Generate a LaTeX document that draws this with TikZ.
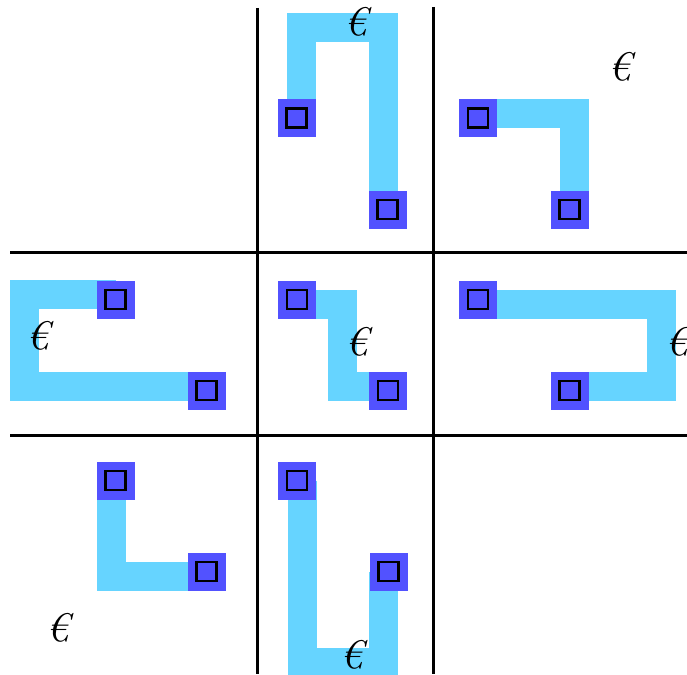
\documentclass[tikz,border=0pt]{standalone}
\usepackage{fontspec}
\definecolor{padblue}{RGB}{82,82,255}
\definecolor{stripblue}{RGB}{102,212,255}
\tikzset{
  grid line/.style={line width=3pt, black},
  strip/.style={line width=29pt, stripblue, line join=miter},
  pad/.style={fill=padblue, draw=none, minimum size=38pt, inner sep=0pt,
    path picture={\draw[line width=2.2pt, black]
      ([shift={(-10pt,-9.5pt)}]path picture bounding box.center) rectangle
      ([shift={(10pt,9.5pt)}]path picture bounding box.center);}},
  mark glyph/.style={inner sep=0pt, font=\fontsize{40}{40}\selectfont\itshape}
}
\begin{document}
\begin{tikzpicture}[x=1pt, y=-1pt]
\useasboundingbox (0,0) rectangle (687,674);
\fill[white] (0,0) rectangle (687,674);
% grid
\draw[grid line] (257,8) -- (257,674);
\draw[grid line] (433,7) -- (433,674);
\draw[grid line] (10,252) -- (687,252);
\draw[grid line] (10,435) -- (687,435);
% pads (positions)
\coordinate (tmA) at (296.5,118);   \coordinate (tmB) at (387.5,209.5);
\coordinate (trA) at (478,118);     \coordinate (trB) at (569.5,209.5);
\coordinate (mlA) at (115.5,299.5); \coordinate (mlB) at (206.5,390.5);
\coordinate (mmA) at (297,299.5);   \coordinate (mmB) at (388,390.5);
\coordinate (mrA) at (478,299.5);   \coordinate (mrB) at (569.5,390.5);
\coordinate (blA) at (115.5,480.5); \coordinate (blB) at (206.5,571.5);
\coordinate (bmA) at (297,480.5);   \coordinate (bmB) at (388.5,571.5);
% strip corners
\coordinate (tm1) at (301.5,27.5); \coordinate (tm2) at (383,27.5);
\coordinate (tr1) at (574,113.5);
\coordinate (ml1) at (24.5,294.5); \coordinate (ml2) at (24.5,386);
\coordinate (mm1) at (342.5,304);  \coordinate (mm2) at (342.5,386);
\coordinate (mr1) at (661,304);    \coordinate (mr2) at (661,386);
\coordinate (bl1) at (111,576.5);
\coordinate (bm1) at (302,662.5);  \coordinate (bm2) at (383.5,662.5);
% strips
\draw[strip] (tmA -| tm1) -- (tm1) -- (tm2) -- (tmB -| tm2);
\draw[strip] (trA |- tr1) -- (tr1) -- (trB -| tr1);
\draw[strip] (mlA |- ml1) -- (ml1) -- (ml2) -- (mlB |- ml2);
\draw[strip] (mmA |- mm1) -- (mm1) -- (mm2) -- (mmB |- mm2);
\draw[strip] (mrA |- mr1) -- (mr1) -- (mr2) -- (mrB |- mr2);
\draw[strip] (blA -| bl1) -- (bl1) -- (blB |- bl1);
\draw[strip] (bmA -| bm1) -- (bm1) -- (bm2) -- (bmB -| bm2);
% pads
\foreach \p in {tmA,tmB,trA,trB,mlA,mlB,mmA,mmB,mrA,mrB,blA,blB,bmA,bmB}
  \node[pad] (pad\p) at (\p) {};
% glyphs
\node[mark glyph] (g1) at (356,22) {€};
\node[mark glyph] (g2) at (620,67) {€};
\node[mark glyph] (g3) at (38,336) {€};
\node[mark glyph] (g4) at (357,342) {€};
\node[mark glyph] (g5) at (677,342) {€};
\node[mark glyph] (g6) at (58,628) {€};
\node[mark glyph] (g7) at (352,655) {€};
\end{tikzpicture}
\end{document}
